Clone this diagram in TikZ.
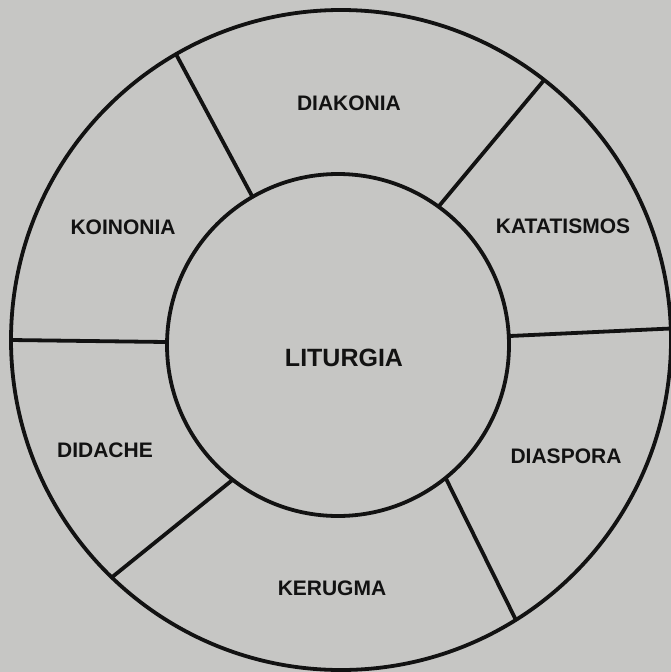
\documentclass[tikz,border=0pt]{standalone}
\usepackage{xcolor}
\usepackage{fontspec}
\setmainfont{Liberation Sans}
\usepackage{tikz}
\definecolor{paper}{RGB}{198,198,196}
\definecolor{ink}{RGB}{18,18,18}
\tikzset{
	ring/.style={draw=ink, circle, line width=3.8pt, inner sep=0pt, outer sep=0pt, minimum size=#1},
	spoke/.style={draw=ink, line width=3.8pt},
	sectorlabel/.style={font=\fontsize{21}{21}\selectfont\bfseries, text=ink, inner sep=0pt},
}

\begin{document}
\begin{tikzpicture}[
				x=1pt, y=-1pt,
				hublabel/.style={font=\fontsize{25}{25}\selectfont\bfseries, text=ink, inner sep=0pt}
				]
				\clip (0,0) rectangle (671,672);
				\fill[paper] (0,0) rectangle (671,672);
				\node[ring=660pt] (outer) at (341,340) {};
				\node[ring=342pt] (inner) at (338,345) {};
				\node[hublabel] (liturgia) at (344,358) {LITURGIA};
				\node[sectorlabel] (diakonia) at (349,103) {DIAKONIA};
				\node[sectorlabel] (katatismos) at (563,226) {KATATISMOS};
				\node[sectorlabel] (diaspora) at (566,456) {DIASPORA};
				\node[sectorlabel] (kerugma) at (332,588) {KERUGMA};
				\node[sectorlabel] (didache) at (105,450) {DIDACHE};
				\node[sectorlabel] (koinonia) at (123,227) {KOINONIA};
				\foreach \a/\b in {120/120, 54/52, 3/2, -51/-58, -128/-134, 179/180}
					\draw[spoke] (inner.\a) -- (outer.\b);
			\end{tikzpicture}
\end{document}
